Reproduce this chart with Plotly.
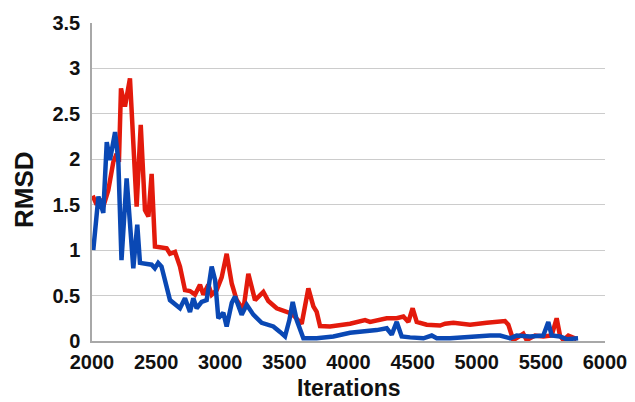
import plotly.graph_objects as go

blue_iter = [2010, 2050, 2088, 2115, 2140, 2180, 2205, 2230, 2270, 2322, 2353, 2374, 2465, 2490, 2516, 2542,
             2608, 2686, 2725, 2764, 2790, 2816, 2855, 2894, 2933, 2960, 2985, 3024, 3050, 3090, 3115, 3167,
             3206, 3258, 3323, 3414, 3466, 3505, 3539, 3565, 3596, 3648, 3752, 3882, 4012, 4116, 4220, 4298,
             4337, 4376, 4415, 4480, 4584, 4649, 4688, 4792, 4974, 5104, 5182, 5260, 5311, 5415, 5519, 5558,
             5584, 5649, 5701, 5790]
blue_rmsd = [1.00, 1.59, 1.41, 2.19, 1.99, 2.30, 1.99, 0.89, 1.79, 0.80, 1.28, 0.86, 0.84, 0.80, 0.86, 0.82,
             0.45, 0.36, 0.47, 0.32, 0.47, 0.36, 0.43, 0.45, 0.82, 0.67, 0.25, 0.31, 0.16, 0.42, 0.49, 0.29,
             0.40, 0.29, 0.20, 0.16, 0.10, 0.05, 0.23, 0.43, 0.23, 0.03, 0.03, 0.05, 0.09, 0.10, 0.12, 0.14,
             0.07, 0.21, 0.05, 0.04, 0.03, 0.06, 0.03, 0.03, 0.05, 0.06, 0.06, 0.03, 0.06, 0.05, 0.06, 0.21,
             0.06, 0.05, 0.02, 0.03]

red_iter = [2005, 2036, 2062, 2088, 2127, 2166, 2192, 2210, 2226, 2257, 2296, 2348, 2380, 2413, 2440, 2465,
            2491, 2582, 2608, 2647, 2686, 2725, 2764, 2803, 2842, 2868, 2907, 2933, 2972, 3011, 3050, 3090,
            3128, 3180, 3219, 3271, 3336, 3375, 3440, 3518, 3557, 3635, 3687, 3726, 3752, 3778, 3856, 4012,
            4129, 4168, 4246, 4298, 4376, 4428, 4467, 4500, 4532, 4610, 4714, 4753, 4818, 4948, 5078, 5156,
            5220, 5246, 5285, 5363, 5389, 5454, 5519, 5584, 5623, 5649, 5675, 5714, 5779]
red_rmsd = [1.60, 1.50, 1.56, 1.48, 1.66, 1.97, 2.06, 1.97, 2.78, 2.58, 2.89, 1.48, 2.38, 1.44, 1.37, 1.84,
            1.04, 1.02, 0.96, 0.98, 0.82, 0.56, 0.55, 0.51, 0.62, 0.51, 0.62, 0.51, 0.56, 0.70, 0.96, 0.63,
            0.45, 0.34, 0.74, 0.45, 0.54, 0.44, 0.36, 0.32, 0.30, 0.19, 0.58, 0.38, 0.32, 0.165, 0.16, 0.19,
            0.23, 0.21, 0.23, 0.25, 0.25, 0.27, 0.21, 0.36, 0.21, 0.18, 0.17, 0.19, 0.20, 0.18, 0.20, 0.21,
            0.22, 0.18, 0.01, 0.08, 0.01, 0.06, 0.05, 0.06, 0.25, 0.06, 0.01, 0.06, 0.02]

x_ticks = [2000, 2500, 3000, 3500, 4000, 4500, 5000, 5500, 6000]
y_ticks = [0, 0.5, 1, 1.5, 2, 2.5, 3, 3.5]
y_tick_text = ["0", "0.5", "1", "1.5", "2", "2.5", "3", "3.5"]
x_title = "Iterations"
y_title = "RMSD"

font_family = "Liberation Sans, Arial, sans-serif"
W, H = 635, 402
# page body has an 8px margin, so the figure is drawn offset by 8px
L, R, T, B = 84, 38, 15, 69
PW, PH = W - L - R, H - T - B

fig = go.Figure()
fig.add_trace(go.Scatter(x=red_iter, y=red_rmsd, mode="lines",
                         line=dict(color="#e31a0c", width=4.5), showlegend=False))
fig.add_trace(go.Scatter(x=blue_iter, y=blue_rmsd, mode="lines",
                         line=dict(color="#0a48b4", width=4.5), showlegend=False))

fig.update_layout(
    width=W, height=H,
    margin=dict(l=L, r=R, t=T, b=B),
    paper_bgcolor="white", plot_bgcolor="white",
    font=dict(family=font_family, color="#111111"),
    xaxis=dict(range=[2000, 6000], tickvals=x_ticks, ticktext=[str(v) for v in x_ticks],
               showgrid=False, zeroline=False, showline=True, linecolor="#a8a8a8", linewidth=1.5,
               ticks="", automargin=False, ticklabelstandoff=2,
               tickfont=dict(size=20, weight="bold", family=font_family, color="#111111")),
    yaxis=dict(range=[0, 3.5], tickvals=y_ticks, ticktext=y_tick_text,
               showgrid=True, gridcolor="#cccccc", gridwidth=1.3, zeroline=False,
               showline=True, linecolor="#a8a8a8", linewidth=1.5, ticks="", automargin=False,
               ticklabelstandoff=6,
               tickfont=dict(size=20, weight="bold", family=font_family, color="#111111")),
    annotations=[
        dict(text=x_title, xref="paper", yref="paper", x=0.5, y=-(380 - (H - B)) / PH,
             xanchor="center", yanchor="middle", showarrow=False,
             font=dict(size=23, weight="bold", family=font_family, color="#111111")),
        dict(text=y_title, xref="paper", yref="paper", x=-(L - 16) / PW,
             y=1 - (182 - T) / PH,
             xanchor="center", yanchor="middle", textangle=-90, showarrow=False,
             font=dict(size=26, weight="bold", family=font_family, color="#111111")),
    ],
)

fig.write_html("out.html")
